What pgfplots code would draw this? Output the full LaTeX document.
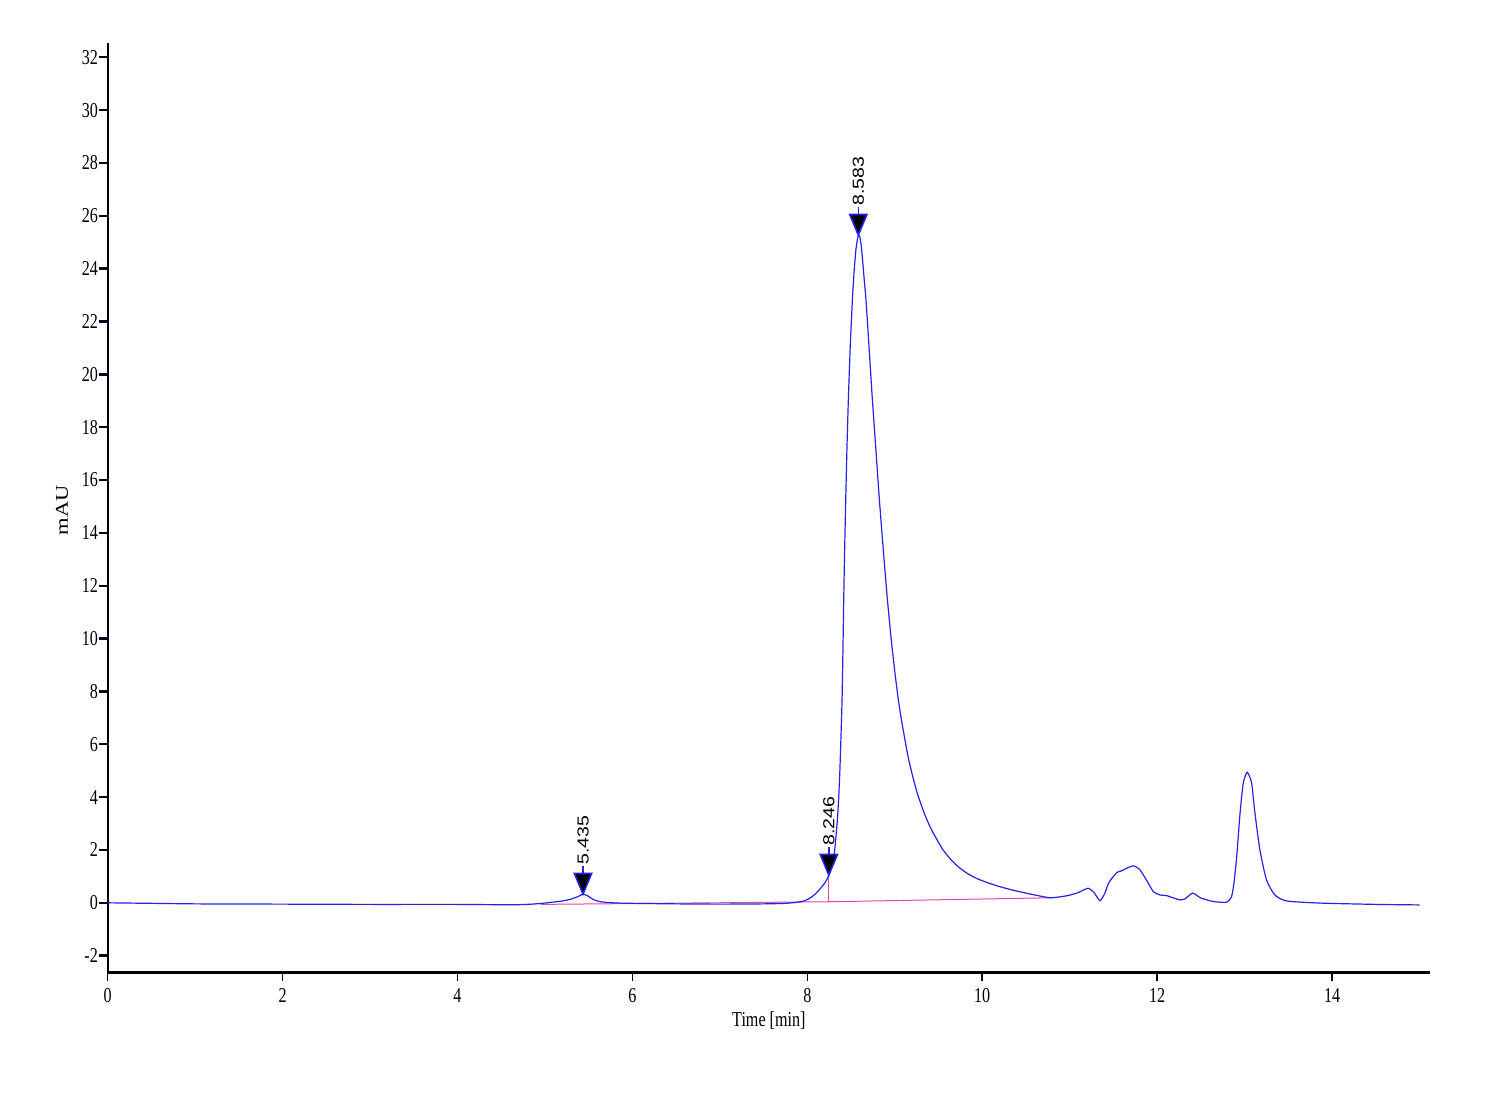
\documentclass[border=0pt]{standalone}
\usepackage{fontspec}
\setmainfont{Liberation Serif}
\newfontfamily\tickfont[FakeStretch=0.76]{Liberation Serif}
\newfontfamily\vfont[FakeStretch=1.25]{Liberation Serif}
\newfontfamily\peakfont[FakeStretch=1.22]{Liberation Sans}
\usepackage{pgfplots}
\pgfplotsset{compat=1.18}
\definecolor{trace}{RGB}{35,35,225}
\definecolor{base}{RGB}{225,70,170}
\pgfdeclareplotmark{peakmark}{%
  \pgfpathmoveto{\pgfpoint{0pt}{0pt}}%
  \pgfpathlineto{\pgfpoint{-4.3pt}{10.3pt}}%
  \pgfpathlineto{\pgfpoint{4.3pt}{10.3pt}}%
  \pgfpathclose
  \pgfusepathqfillstroke
  \pgfpathmoveto{\pgfpoint{0pt}{10.3pt}}%
  \pgfpathlineto{\pgfpoint{0pt}{14pt}}%
  \pgfusepathqstroke
}
\begin{document}
\begin{tikzpicture}
\path[use as bounding box] (-53.85pt,-63.85pt) rectangle ++(750pt,550pt);
\begin{axis}[
  at={(0pt,0pt)}, anchor=south west,
  scale only axis, width=661.15pt, height=464.8pt,
  xmin=0, xmax=15.12, ymin=-2.63, ymax=32.55,
  axis x line=bottom, axis y line=left,
  x axis line style={-, line width=1.5pt, black},
  y axis line style={-, line width=1pt, black},
  xtick={0,2,...,14}, ytick={-2,0,...,32},
  tick align=outside,
  major tick length=4.2pt,
  x tick style={line width=0.8pt, color=black!85!blue},
  y tick style={line width=1.2pt, color=black!85!blue},
  /pgf/number format/assume math mode=true,
  xticklabel style={font=\tickfont\fontsize{10.6}{12}\selectfont, inner sep=3.5pt},
  yticklabel style={font=\tickfont\fontsize{10.6}{12}\selectfont, inner sep=0.5pt},
  xlabel={Time [min]},
  xlabel style={font=\tickfont\fontsize{10.6}{12}\selectfont, at={(axis description cs:0.5,0)}, anchor=north, yshift=-19.5pt, inner sep=0pt},
  ylabel={mAU},
  ylabel style={font=\vfont\fontsize{9}{10}\selectfont, at={(axis description cs:-0.0346,0.497)}, anchor=center, inner sep=0pt},
  clip=false,
]
% integration baseline
\addplot[base, line width=0.5pt] coordinates {(4.95,-0.06) (8.246,0.04) (10.777,0.19)};
\addplot[base, line width=0.5pt] coordinates {(8.246,0.04) (8.246,1.05)};
% chromatogram
\addplot[trace, line width=0.6pt, smooth, tension=0.35] coordinates {
(0,0.0) (0.5,-0.02) (1,-0.04) (1.5,-0.045) (2,-0.05) (2.5,-0.055) (3,-0.06) (3.5,-0.06) (4,-0.06) (4.4,-0.07) (4.7,-0.07)
(4.85,-0.05) (5.0,-0.01) (5.1,0.03) (5.2,0.07) (5.3,0.14) (5.38,0.24) (5.435,0.33) (5.49,0.26) (5.55,0.13) (5.62,0.05) (5.72,0.01) (5.85,-0.01)
(6.0,-0.02) (6.5,-0.04) (7.0,-0.05) (7.5,-0.04) (7.75,-0.02) (7.88,0.02) (7.97,0.08) (8.04,0.2) (8.1,0.36) (8.16,0.58) (8.21,0.8) (8.246,1.05)
(8.28,1.42) (8.309,1.88) (8.331,2.64) (8.345,3.2) (8.358,3.91) (8.372,5.0) (8.385,6.3) (8.397,7.68) (8.407,9.5) (8.416,11.46)
(8.427,13.4) (8.439,15.25) (8.453,17.2) (8.469,19.03) (8.49,21.0) (8.515,22.81) (8.535,23.9) (8.555,24.7) (8.572,25.1) (8.586,25.27)
(8.60,25.2) (8.615,24.9) (8.63,24.4) (8.65,23.6) (8.671,22.81) (8.707,20.95) (8.744,19.03) (8.784,17.15) (8.824,15.25) (8.87,13.3)
(8.915,11.5) (8.96,9.95) (9.0,8.75) (9.04,7.7) (9.08,6.85) (9.12,6.1) (9.16,5.4) (9.21,4.72) (9.258,4.14)
(9.33,3.45) (9.403,2.88) (9.48,2.4) (9.555,1.99) (9.64,1.64) (9.727,1.36) (9.83,1.11) (9.937,0.92) (10.07,0.75) (10.203,0.61) (10.35,0.48)
(10.509,0.36) (10.64,0.27) (10.775,0.19)
(10.9,0.23) (11.0,0.29) (11.1,0.39) (11.21,0.55) (11.28,0.38) (11.345,0.08) (11.4,0.35) (11.444,0.74) (11.5,1.0) (11.54,1.15) (11.6,1.22)
(11.66,1.32) (11.73,1.4) (11.8,1.26) (11.88,0.85) (11.955,0.43) (12.03,0.3) (12.11,0.27) (12.2,0.17) (12.26,0.11) (12.32,0.15) (12.405,0.37)
(12.5,0.18) (12.64,0.05) (12.79,0.02) (12.85,0.22) (12.88,0.8) (12.91,1.75) (12.948,3.4) (12.985,4.54) (13.03,4.94) (13.08,4.54) (13.118,3.4)
(13.175,2.0) (13.25,0.87) (13.345,0.3) (13.48,0.07) (13.86,-0.01) (14.5,-0.06) (15.0,-0.08)
};
% peak markers
\addplot[only marks, mark=peakmark, mark options={draw=trace, fill=black, line width=0.8pt},
  point meta=explicit symbolic, nodes near coords,
  every node near coord/.append style={yshift=14.3pt, rotate=90, anchor=west, inner sep=0pt,
    font=\peakfont\fontsize{8}{9}\selectfont, text=black}]
  coordinates {(5.435,0.33) [5.435] (8.246,1.05) [8.246] (8.583,25.27) [8.583]};
\end{axis}
\end{tikzpicture}
\end{document}
